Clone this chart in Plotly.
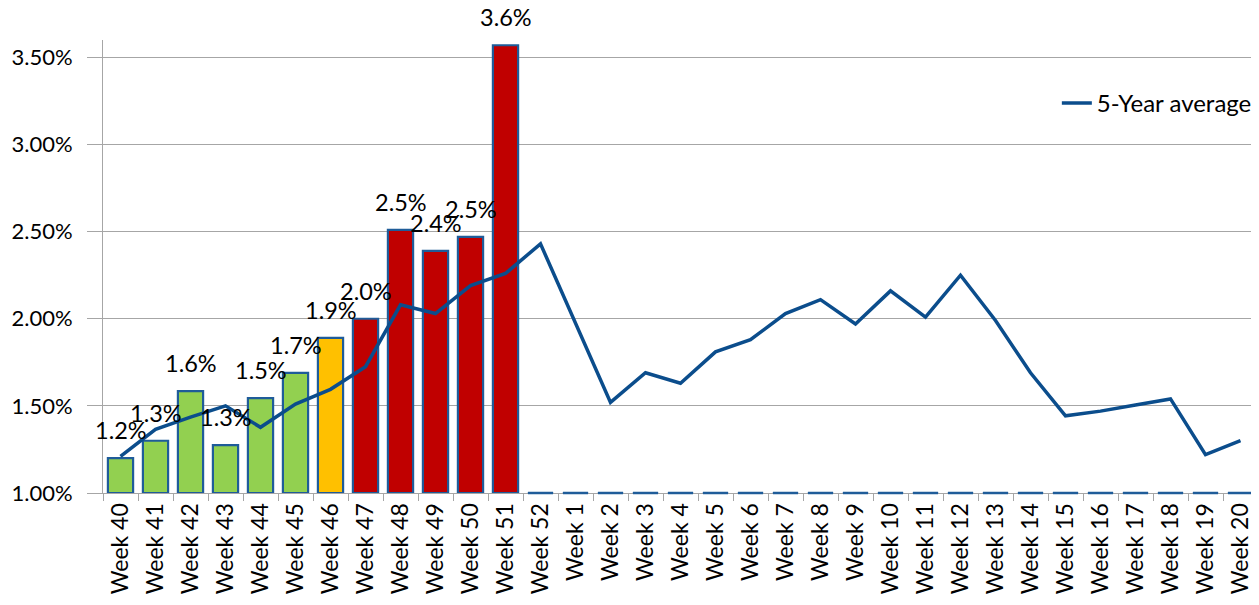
import plotly.graph_objects as go

weeks = ["Week 40", "Week 41", "Week 42", "Week 43", "Week 44", "Week 45", "Week 46",
         "Week 47", "Week 48", "Week 49", "Week 50", "Week 51", "Week 52",
         "Week 1", "Week 2", "Week 3", "Week 4", "Week 5", "Week 6", "Week 7",
         "Week 8", "Week 9", "Week 10", "Week 11", "Week 12", "Week 13", "Week 14",
         "Week 15", "Week 16", "Week 17", "Week 18", "Week 19", "Week 20"]

# current season (%), 0 = not yet reported
current = [1.20, 1.30, 1.585, 1.275, 1.545, 1.69, 1.89, 2.00, 2.51, 2.39, 2.47, 3.57,
           0, 0, 0, 0, 0, 0, 0, 0, 0, 0, 0, 0, 0, 0, 0, 0, 0, 0, 0, 0, 0]

# activity level per week: 0 = low, 1 = moderate, 2 = high
level = [0, 0, 0, 0, 0, 0, 1, 2, 2, 2, 2, 2,
         0, 0, 0, 0, 0, 0, 0, 0, 0, 0, 0, 0, 0, 0, 0, 0, 0, 0, 0, 0, 0]

five_year_avg = [1.21, 1.365, 1.435, 1.50, 1.377, 1.51, 1.595, 1.725, 2.08, 2.03, 2.19, 2.26,
                 2.43, 1.98, 1.52, 1.69, 1.63, 1.81, 1.88, 2.03, 2.11, 1.97, 2.16, 2.01,
                 2.25, 1.99, 1.69, 1.443, 1.47, 1.505, 1.54, 1.22, 1.30]

y_min, y_max = 1.0, 3.6
level_colors = ["#92D050", "#FFC000", "#C00000"]

FONT = "Lato"
outline = "#1F5C99"
line_col = "#0B4D8C"

heights = [max(v, y_min) - y_min for v in current]
colors = [level_colors[l] for l in level]

fig = go.Figure()
fig.add_trace(go.Bar(
    x=weeks, y=heights, base=y_min, cliponaxis=False,
    marker=dict(color=colors, line=dict(color=outline, width=2.2)),
    showlegend=False, hoverinfo="skip",
))
# weeks not yet reported: Excel draws the empty bar as its outline at the axis floor
empty_weeks = [w for w, v in zip(weeks, current) if v <= y_min]
fig.add_trace(go.Scatter(
    x=empty_weeks, y=[y_min] * len(empty_weeks), mode="markers", cliponaxis=False,
    marker=dict(symbol="line-ew", size=18, line=dict(color=outline, width=2.5)),
    showlegend=False, hoverinfo="skip",
))
fig.add_trace(go.Scatter(
    x=weeks, y=five_year_avg, mode="lines", name="5-Year average",
    line=dict(color=line_col, width=3.5),
))

for w, v in zip(weeks, current):
    if v > 0:
        fig.add_annotation(x=w, y=v, text=f"{v:.1f}%", showarrow=False,
                           yanchor="bottom", yshift=12,
                           font=dict(family=FONT, size=23.5, color="#000000"))

fig.update_layout(
    width=1251, height=597,
    margin=dict(l=95, r=1, t=32, b=112, autoexpand=False),
    paper_bgcolor="white", plot_bgcolor="white",
    bargap=0.28,
    font=dict(family=FONT, size=22, color="#000000"),
    legend=dict(x=0.999, xanchor="right", y=0.86, yanchor="middle",
                font=dict(family=FONT, size=24, color="#000000"),
                bgcolor="rgba(0,0,0,0)"),
)
fig.update_xaxes(
    type="category", range=[-0.5, len(weeks) - 0.5],
    tickangle=-90, tickson="boundaries",
    ticks="outside", ticklen=7, tickcolor="#A6A6A6",
    showline=True, linecolor="#A6A6A6", linewidth=1, layer="below traces",
    showgrid=False, automargin=False,
    tickfont=dict(family=FONT, size=23, color="#000000"),
)
fig.update_yaxes(
    range=[y_min, y_max], tickvals=[1.0, 1.5, 2.0, 2.5, 3.0, 3.5],
    ticktext=["1.00%", "1.50%", "2.00%", "2.50%", "3.00%", "3.50%"],
    showgrid=True, gridcolor="#A6A6A6", gridwidth=1,
    showline=True, linecolor="#A6A6A6", linewidth=1,
    ticks="outside", ticklen=15, tickcolor="#A6A6A6",
    ticklabelstandoff=10, zeroline=False, automargin=False,
    tickfont=dict(family=FONT, size=22, color="#000000"),
)

fig.write_html("out.html")
